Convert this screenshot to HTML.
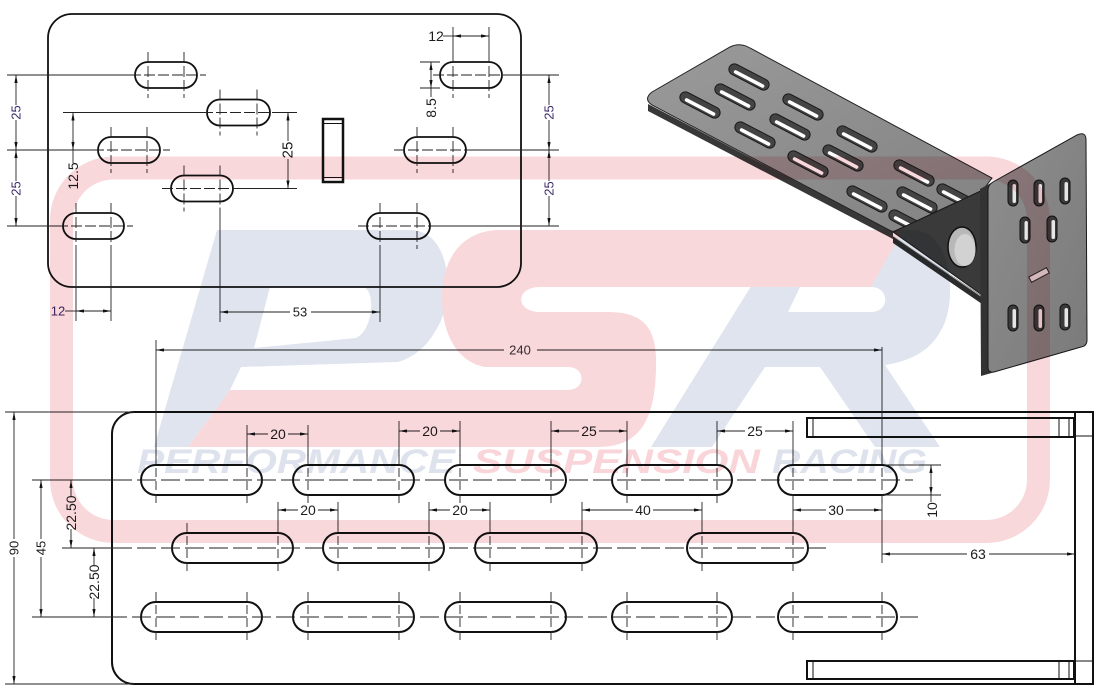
<!DOCTYPE html>
<html><head><meta charset="utf-8"><style>
html,body{margin:0;padding:0;background:#fff;width:1100px;height:700px;overflow:hidden}
svg{display:block}
.o{fill:none;stroke:#111;stroke-width:1.8}
.s{fill:none;stroke:#111;stroke-width:1.8}
.d{stroke:#222;stroke-width:0.9;fill:none}
.c{stroke:#222;stroke-width:0.9;stroke-dasharray:11 3;fill:none}
.cb{stroke:#222;stroke-width:0.9;stroke-dasharray:19 5;fill:none}
.cv{stroke:#222;stroke-width:0.9;stroke-dasharray:9 4;fill:none}
.a{marker-end:url(#ar)}
.ab{marker-start:url(#ar);marker-end:url(#ar)}
text{font-family:"Liberation Sans",sans-serif;font-size:13px;fill:#1c1c1c}
.v{text-anchor:middle;dominant-baseline:central}
.p{fill:#3d2b6b}
.wm text{font-weight:bold;font-style:italic;font-size:34px}
</style></head><body>
<svg width="1100" height="700" viewBox="0 0 1100 700" xmlns="http://www.w3.org/2000/svg">
<defs>
<marker id="ar" viewBox="0 0 10 4" refX="10" refY="2" markerWidth="8" markerHeight="3.2" markerUnits="userSpaceOnUse" orient="auto-start-reverse"><path d="M0,0L10,2L0,4z" fill="#111"/></marker>
<linearGradient id="g1" x1="0" y1="0" x2="1" y2="1"><stop offset="0" stop-color="#9a9a9a"/><stop offset="1" stop-color="#828282"/></linearGradient>
<linearGradient id="g2" x1="0" y1="0" x2="1" y2="1"><stop offset="0" stop-color="#8e8e8e"/><stop offset="1" stop-color="#7a7a7a"/></linearGradient>
<g id="ps"><rect x="-22" y="-5.5" width="44" height="11" rx="5.5" fill="#444" stroke="#1a1a1a" stroke-width="1"/><rect x="-16" y="0" width="34" height="3.5" rx="1.75" fill="#fff"/></g>
<g id="vs"><rect x="-5" y="-13" width="10" height="26" rx="5" fill="#3a3a3a" stroke="#111"/><rect x="-0.5" y="-9" width="3.5" height="19" rx="1.75" fill="#e6e6e6"/></g>
</defs>

<!-- ============ TOP DRAWING ============ -->
<rect class="o" x="48" y="14" width="473" height="273" rx="24"/>
<rect class="s" x="135" y="62" width="62" height="26" rx="13"/>
<rect class="s" x="207" y="99.5" width="63" height="26" rx="13"/>
<rect class="s" x="98" y="137" width="62" height="26" rx="13"/>
<rect class="s" x="171" y="175.5" width="62" height="26" rx="13"/>
<rect class="s" x="63" y="213" width="61" height="26" rx="13"/>
<rect class="s" x="440" y="62" width="62" height="26" rx="13"/>
<rect class="s" x="404" y="137" width="62" height="26" rx="13"/>
<rect class="s" x="367" y="213" width="63" height="26" rx="13"/>
<g class="c">
<line x1="130" y1="75" x2="206" y2="75"/><line x1="148" y1="52" x2="148" y2="98"/><line x1="184" y1="52" x2="184" y2="98"/>
<line x1="202" y1="112.5" x2="278" y2="112.5"/><line x1="220" y1="89.5" x2="220" y2="135.5"/><line x1="257" y1="89.5" x2="257" y2="135.5"/>
<line x1="93" y1="150" x2="170" y2="150"/><line x1="111" y1="127" x2="111" y2="173"/><line x1="147" y1="127" x2="147" y2="173"/>
<line x1="162" y1="188.5" x2="240" y2="188.5"/><line x1="184" y1="165.5" x2="184" y2="211.5"/><line x1="220" y1="165.5" x2="220" y2="211.5"/>
<line x1="57" y1="226" x2="133" y2="226"/><line x1="76" y1="203" x2="76" y2="249"/><line x1="111" y1="203" x2="111" y2="249"/>
<line x1="433" y1="75" x2="508" y2="75"/><line x1="453" y1="52" x2="453" y2="98"/><line x1="489" y1="52" x2="489" y2="98"/>
<line x1="394" y1="150" x2="471" y2="150"/><line x1="417" y1="127" x2="417" y2="173"/><line x1="453" y1="127" x2="453" y2="173"/>
<line x1="358" y1="226" x2="435" y2="226"/><line x1="380" y1="203" x2="380" y2="249"/><line x1="417" y1="203" x2="417" y2="249"/>
</g>
<rect x="323" y="119" width="20" height="63" fill="none" stroke="#111" stroke-width="2.5"/>
<line x1="323" y1="123.5" x2="343" y2="123.5" stroke="#111" stroke-width="1"/>
<line x1="323" y1="177.5" x2="343" y2="177.5" stroke="#111" stroke-width="1"/>
<g class="d">
<line x1="7" y1="75" x2="130" y2="75"/>
<line x1="63" y1="112.5" x2="202" y2="112.5"/>
<line x1="278" y1="112.5" x2="297" y2="112.5"/>
<line x1="7" y1="150" x2="93" y2="150"/>
<line x1="240" y1="188.5" x2="297" y2="188.5"/>
<line x1="7" y1="226" x2="57" y2="226"/>
<line x1="508" y1="75" x2="559" y2="75"/>
<line x1="471" y1="150" x2="559" y2="150"/>
<line x1="435" y1="226" x2="559" y2="226"/>
<line x1="76" y1="249" x2="76" y2="321"/>
<line x1="111" y1="249" x2="111" y2="321"/>
<line x1="220" y1="211" x2="220" y2="322"/>
<line x1="380" y1="249" x2="380" y2="322"/>
<line x1="453" y1="27" x2="453" y2="52"/>
<line x1="489" y1="27" x2="489" y2="52"/>
<line x1="420" y1="62" x2="440" y2="62"/>
<line x1="420" y1="88" x2="440" y2="88"/>
</g>
<g class="d">
<line class="a" x1="16" y1="105" x2="16" y2="75"/><line class="a" x1="16" y1="120" x2="16" y2="150"/>
<line class="a" x1="16" y1="181" x2="16" y2="150"/><line class="a" x1="16" y1="196" x2="16" y2="226"/>
<line class="a" x1="549" y1="105" x2="549" y2="75"/><line class="a" x1="549" y1="120" x2="549" y2="150"/>
<line class="a" x1="549" y1="181" x2="549" y2="150"/><line class="a" x1="549" y1="196" x2="549" y2="226"/>
<line class="a" x1="73" y1="163" x2="73" y2="112.5"/><line class="a" x1="73" y1="140" x2="73" y2="150"/>
<line class="a" x1="288" y1="141" x2="288" y2="112.5"/><line class="a" x1="288" y1="159" x2="288" y2="188.5"/>
<line class="ab" x1="453" y1="36" x2="489" y2="36"/><line x1="443" y1="36" x2="453" y2="36"/>
<line class="ab" x1="431" y1="62" x2="431" y2="88"/><line x1="431" y1="88" x2="431" y2="97"/>
<line class="ab" x1="76" y1="311" x2="111" y2="311"/><line x1="65" y1="311" x2="76" y2="311"/>
<line class="a" x1="290" y1="312" x2="220" y2="312"/><line class="a" x1="311" y1="312" x2="380" y2="312"/>
</g>
<text class="v p" transform="translate(16,112.5) rotate(-90)">25</text>
<text class="v p" transform="translate(16,188.5) rotate(-90)">25</text>
<text class="v p" transform="translate(549,112.5) rotate(-90)">25</text>
<text class="v p" transform="translate(549,188.5) rotate(-90)">25</text>
<text class="v" transform="translate(73,176) rotate(-90)" style="font-size:14px">12.5</text>
<text class="v" transform="translate(288,150) rotate(-90)" style="font-size:15px">25</text>
<text class="v" x="436" y="36" style="font-size:14px">12</text>
<text class="v" transform="translate(431,108) rotate(-90)" style="font-size:14px">8.5</text>
<text class="v p" x="58" y="311">12</text>
<text class="v" x="300" y="312">53</text>

<!-- ============ 3D MODEL ============ -->
<path d="M648,104 L893,232 L893,239 L648,111 Z" fill="#383838"/>
<path d="M652,92 L730,47 Q740,42 750,48 L992,178 L983,190 L893,232 L652,105 Q643,99 652,92 Z" fill="url(#g1)" stroke="#222" stroke-width="1"/>
<use href="#ps" transform="translate(749,77) rotate(27.5)"/>
<use href="#ps" transform="translate(700,105) rotate(27.5)"/>
<use href="#ps" transform="translate(735,97) rotate(27.5)"/>
<use href="#ps" transform="translate(803,107) rotate(27.5)"/>
<use href="#ps" transform="translate(755,135) rotate(27.5)"/>
<use href="#ps" transform="translate(790,127) rotate(27.5)"/>
<use href="#ps" transform="translate(857,139) rotate(27.5)"/>
<use href="#ps" transform="translate(808,164) rotate(27.5)"/>
<use href="#ps" transform="translate(843,158) rotate(27.5)"/>
<use href="#ps" transform="translate(867,199) rotate(27.5)"/>
<use href="#ps" transform="translate(914,173) rotate(27.5)"/>
<use href="#ps" transform="translate(917,200) rotate(27.5)"/>
<use href="#ps" transform="translate(957,197) rotate(27.5)"/>
<use href="#ps" transform="translate(909,223) rotate(27.5)"/>
<path d="M893,236 L985,298 L985,306 L893,243 Z" fill="#2c2c2c"/>
<line x1="893" y1="236" x2="985" y2="299" stroke="#bbb" stroke-width="0.8"/>
<path d="M893,232 L985,189 L985,297 Z" fill="#3a3a3a" stroke="#1a1a1a" stroke-width="1"/>
<ellipse cx="962" cy="247" rx="14" ry="20" fill="#b8b8b8" stroke="#111" stroke-width="1.5"/>
<ellipse cx="965" cy="250" rx="10.5" ry="16" fill="#d2d2d2"/>
<path d="M980,189 L1075,137 L1079,348 L981,376 Z" fill="#333"/>
<path d="M993,182 L1077,135 Q1086,131 1086,140 L1087,340 Q1087,346 1081,347 L994,372 Q988,373 988,367 L988,190 Q988,185 993,182 Z" fill="url(#g2)" stroke="#1a1a1a" stroke-width="1"/>
<use href="#vs" transform="translate(1013,193)"/>
<use href="#vs" transform="translate(1039,193)"/>
<use href="#vs" transform="translate(1065,191)"/>
<use href="#vs" transform="translate(1025,230)"/>
<use href="#vs" transform="translate(1052,229)"/>
<use href="#vs" transform="translate(1013,318)"/>
<use href="#vs" transform="translate(1039,318)"/>
<use href="#vs" transform="translate(1065,317)"/>
<rect x="-10" y="-3" width="20" height="6" transform="translate(1039,275) rotate(-28)" fill="#d8d8d8" stroke="#222"/>

<!-- ============ BOTTOM DRAWING ============ -->
<path class="o" d="M134,412 L1093,412 L1093,684 L134,684 A22 22 0 0 1 112,662 L112,434 A22 22 0 0 1 134,412 Z" style="stroke-width:2"/>
<line x1="1075" y1="412" x2="1075" y2="684" stroke="#111" stroke-width="2"/>
<line x1="1075" y1="436" x2="1093" y2="436" stroke="#111" stroke-width="1"/>
<line x1="1075" y1="661" x2="1093" y2="661" stroke="#111" stroke-width="1"/>
<rect x="807" y="418" width="267" height="19" fill="none" stroke="#111" stroke-width="2"/>
<rect x="807" y="661" width="267" height="18" fill="none" stroke="#111" stroke-width="2"/>
<g stroke="#111" stroke-width="1">
<line x1="813" y1="418" x2="813" y2="437"/><line x1="1059" y1="418" x2="1059" y2="437"/><line x1="1069" y1="418" x2="1069" y2="437"/>
<line x1="813" y1="661" x2="813" y2="679"/><line x1="1059" y1="661" x2="1059" y2="679"/><line x1="1069" y1="661" x2="1069" y2="679"/>
</g>
<g class="s" style="stroke-width:2">
<rect x="141" y="465" width="121" height="30" rx="15"/>
<rect x="293" y="465" width="121" height="30" rx="15"/>
<rect x="445" y="465" width="121" height="30" rx="15"/>
<rect x="612" y="465" width="120" height="30" rx="15"/>
<rect x="778" y="465" width="119" height="30" rx="15"/>
<rect x="172" y="533" width="121" height="30" rx="15"/>
<rect x="323" y="533" width="121" height="30" rx="15"/>
<rect x="475" y="533" width="122" height="30" rx="15"/>
<rect x="687" y="533" width="121" height="30" rx="15"/>
<rect x="141" y="602" width="121" height="30" rx="15"/>
<rect x="293" y="602" width="121" height="30" rx="15"/>
<rect x="445" y="602" width="121" height="30" rx="15"/>
<rect x="612" y="602" width="120" height="30" rx="15"/>
<rect x="778" y="602" width="119" height="30" rx="15"/>
</g>
<line class="cb" x1="113" y1="480" x2="913" y2="480"/>
<line class="cb" x1="113" y1="548" x2="826" y2="548"/>
<line class="cb" x1="108" y1="617" x2="918" y2="617"/>
<g class="cv">
<line x1="156" y1="455" x2="156" y2="505"/><line x1="247" y1="455" x2="247" y2="505"/>
<line x1="308" y1="455" x2="308" y2="505"/><line x1="399" y1="455" x2="399" y2="505"/>
<line x1="460" y1="455" x2="460" y2="505"/><line x1="551" y1="455" x2="551" y2="505"/>
<line x1="627" y1="455" x2="627" y2="505"/><line x1="717" y1="455" x2="717" y2="505"/>
<line x1="793" y1="455" x2="793" y2="505"/><line x1="882" y1="455" x2="882" y2="505"/>
<line x1="187" y1="523" x2="187" y2="573"/><line x1="278" y1="523" x2="278" y2="573"/>
<line x1="338" y1="523" x2="338" y2="573"/><line x1="429" y1="523" x2="429" y2="573"/>
<line x1="490" y1="523" x2="490" y2="573"/><line x1="582" y1="523" x2="582" y2="573"/>
<line x1="702" y1="523" x2="702" y2="573"/><line x1="793" y1="523" x2="793" y2="573"/>
<line x1="156" y1="592" x2="156" y2="643"/><line x1="247" y1="592" x2="247" y2="643"/>
<line x1="308" y1="592" x2="308" y2="643"/><line x1="399" y1="592" x2="399" y2="643"/>
<line x1="460" y1="592" x2="460" y2="643"/><line x1="551" y1="592" x2="551" y2="643"/>
<line x1="627" y1="592" x2="627" y2="643"/><line x1="717" y1="592" x2="717" y2="643"/>
<line x1="793" y1="592" x2="793" y2="643"/><line x1="882" y1="592" x2="882" y2="643"/>
</g>
<g class="d">
<line x1="5" y1="412" x2="134" y2="412"/>
<line x1="5" y1="684" x2="134" y2="684"/>
<line x1="32" y1="480" x2="113" y2="480"/>
<line x1="62" y1="548" x2="113" y2="548"/>
<line x1="32" y1="617" x2="108" y2="617"/>
<line x1="156" y1="340" x2="156" y2="456"/>
<line x1="882" y1="347" x2="882" y2="456"/>
<line x1="882" y1="500" x2="882" y2="563"/>
<line x1="247" y1="425" x2="247" y2="456"/><line x1="308" y1="425" x2="308" y2="456"/>
<line x1="399" y1="421" x2="399" y2="456"/><line x1="460" y1="421" x2="460" y2="456"/>
<line x1="551" y1="421" x2="551" y2="456"/><line x1="627" y1="421" x2="627" y2="456"/>
<line x1="717" y1="421" x2="717" y2="456"/><line x1="793" y1="421" x2="793" y2="456"/>
<line x1="278" y1="502" x2="278" y2="524"/><line x1="338" y1="502" x2="338" y2="524"/>
<line x1="429" y1="502" x2="429" y2="524"/><line x1="490" y1="502" x2="490" y2="524"/>
<line x1="582" y1="502" x2="582" y2="524"/><line x1="702" y1="502" x2="702" y2="524"/>
<line x1="793" y1="502" x2="793" y2="524"/>
<line x1="884" y1="465" x2="941" y2="465"/>
<line x1="884" y1="495" x2="941" y2="495"/>
</g>
<g class="d">
<line class="a" x1="504" y1="350" x2="156" y2="350"/><line class="a" x1="537" y1="350" x2="882" y2="350"/>
<line class="a" x1="268" y1="434" x2="247" y2="434"/><line class="a" x1="288" y1="434" x2="308" y2="434"/>
<line class="a" x1="420" y1="431" x2="399" y2="431"/><line class="a" x1="440" y1="431" x2="460" y2="431"/>
<line class="a" x1="579" y1="431" x2="551" y2="431"/><line class="a" x1="599" y1="431" x2="627" y2="431"/>
<line class="a" x1="745" y1="431" x2="717" y2="431"/><line class="a" x1="765" y1="431" x2="793" y2="431"/>
<line class="a" x1="298" y1="510" x2="278" y2="510"/><line class="a" x1="318" y1="510" x2="338" y2="510"/>
<line class="a" x1="450" y1="510" x2="429" y2="510"/><line class="a" x1="470" y1="510" x2="490" y2="510"/>
<line class="a" x1="633" y1="510" x2="582" y2="510"/><line class="a" x1="653" y1="510" x2="702" y2="510"/>
<line class="a" x1="826" y1="510" x2="793" y2="510"/><line class="a" x1="846" y1="510" x2="882" y2="510"/>
<line class="ab" x1="931" y1="465" x2="931" y2="495"/><line x1="931" y1="495" x2="931" y2="502"/>
<line class="a" x1="967" y1="554" x2="882" y2="554"/><line class="a" x1="989" y1="554" x2="1075" y2="554"/>
<line class="a" x1="14" y1="539" x2="14" y2="412"/><line class="a" x1="14" y1="557" x2="14" y2="684"/>
<line class="a" x1="41" y1="539" x2="41" y2="480"/><line class="a" x1="41" y1="557" x2="41" y2="617"/>
<line class="a" x1="71" y1="497" x2="71" y2="480"/><line class="a" x1="71" y1="529" x2="71" y2="548"/>
<line class="a" x1="94" y1="566" x2="94" y2="548"/><line class="a" x1="94" y1="598" x2="94" y2="617"/>
</g>
<text class="v" x="520" y="350" style="fill:#333">240</text>
<text class="v" x="278" y="434" style="font-size:14px">20</text>
<text class="v" x="430" y="431" style="font-size:14px">20</text>
<text class="v" x="589" y="431" style="font-size:14px">25</text>
<text class="v" x="755" y="431" style="font-size:14px">25</text>
<text class="v" x="308" y="510" style="font-size:14px">20</text>
<text class="v" x="460" y="510" style="font-size:14px">20</text>
<text class="v" x="643" y="510" style="font-size:14px">40</text>
<text class="v" x="836" y="510" style="font-size:14px">30</text>
<text class="v" transform="translate(932,510) rotate(-90)" style="font-size:14px">10</text>
<text class="v" x="978" y="554" style="font-size:14px">63</text>
<text class="v" transform="translate(14,548) rotate(-90)">90</text>
<text class="v" transform="translate(41,548) rotate(-90)">45</text>
<text class="v" transform="translate(71,513) rotate(-90)" style="font-size:14px">22.50</text>
<text class="v" transform="translate(94,582) rotate(-90)" style="font-size:14px">22.50</text>

<!-- ============ WATERMARK ============ -->
<g class="wm" style="mix-blend-mode:multiply">
<rect x="61.5" y="168" width="977" height="363.5" rx="52" fill="none" stroke="#f9d8dc" stroke-width="23"/>
<!-- P -->
<path fill="#dfe4ee" fill-rule="evenodd" d="M217,230 L410,230 C452,230 456,300 436,330 C426,348 412,358 398,362 L241,367 L230,390 L188,447 L154,447 Z M270,287 L362,287 C376,287 374,330 356,338 L254,348 Z"/>
<!-- R -->
<path fill="#dfe4ee" fill-rule="evenodd" d="M786,230 L912,230 C954,230 958,305 940,332 C930,350 912,361 885,365 L940,447 L875,447 L820,367 L765,367 L712,447 L651,447 Z M800,287 L871,287 C890,287 890,312 871,312 L788,312 Z"/>
<!-- S -->
<path fill="#f9d8dc" d="M500,230 L903,230 L871,287 L540,287 C515,287 515,312 540,312 L608,312 C650,312 657,335 656,368 C655,420 640,447 598,447 L188,447 L230,390 L568,390 C586,390 586,367 568,367 L485,367 C458,362 442,335 442,298 C442,255 465,230 500,230 Z"/>
<text x="137" y="473" textLength="318" lengthAdjust="spacingAndGlyphs" style="fill:#dde2ec">PERFORMANCE</text>
<text x="473" y="473" textLength="287" lengthAdjust="spacingAndGlyphs" style="fill:#f9d5d9">SUSPENSION</text>
<text x="772" y="473" textLength="155" lengthAdjust="spacingAndGlyphs" style="fill:#dde2ec">RACING</text>
</g>
</svg>
</body></html>
